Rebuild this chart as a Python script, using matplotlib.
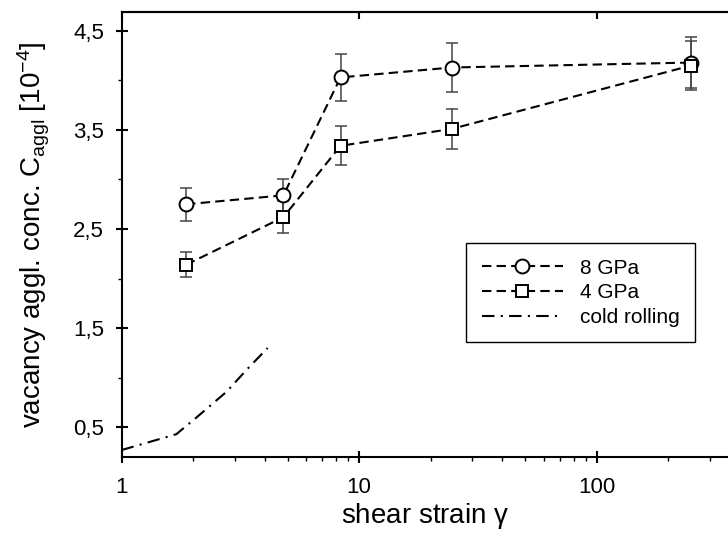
import matplotlib
matplotlib.use("Agg")
import matplotlib.pyplot as plt
from matplotlib.ticker import FixedLocator, FuncFormatter, NullFormatter
from matplotlib.lines import Line2D

# shear strain / agglomerate concentration (x 1e-4)
strain = [1.87, 4.8, 8.35, 24.5, 250]
conc_8gpa = [2.75, 2.84, 4.03, 4.13, 4.18]
err_8gpa = [0.165, 0.17, 0.24, 0.245, 0.26]
conc_4gpa = [2.14, 2.62, 3.34, 3.51, 4.15]
err_4gpa = [0.125, 0.16, 0.195, 0.205, 0.25]

rolling_strain = [1.0, 1.7, 2.07, 2.77, 3.36, 4.12]
rolling_conc = [0.27, 0.43, 0.60, 0.86, 1.08, 1.30]

legend_labels = ["8 GPa", "4 GPa", "cold rolling"]
y_major = [0.5, 1.5, 2.5, 3.5, 4.5]
y_minor = [1.0, 2.0, 3.0, 4.0]
x_major = [1, 10, 100]

plt.rcParams["font.family"] = ["Liberation Sans", "DejaVu Sans"]
plt.rcParams["mathtext.default"] = "regular"

fig = plt.figure(figsize=(7.28, 5.36), dpi=100)
ax = fig.add_axes([0.167, 0.1474, 0.833, 0.8302])

dash = (4.5, 2.5)
dashdot = (6, 3, 1, 3)
ecol = "#444444"

# error bars first, then lines with markers on top
ax.errorbar(strain, conc_8gpa, yerr=err_8gpa, fmt="none", ecolor=ecol,
            elinewidth=1.1, capsize=4, capthick=1.1, zorder=2)
ax.errorbar(strain, conc_4gpa, yerr=err_4gpa, fmt="none", ecolor=ecol,
            elinewidth=1.1, capsize=4, capthick=1.1, zorder=2)

l8, = ax.plot(strain, conc_8gpa, color="black", lw=1.5, dashes=dash,
              marker="o", ms=10, mfc="white", mec="black", mew=1.4, zorder=3)
l4, = ax.plot(strain, conc_4gpa, color="black", lw=1.5, dashes=dash,
              marker="s", ms=8.5, mfc="white", mec="black", mew=1.4, zorder=4)
lr, = ax.plot(rolling_strain, rolling_conc, color="black", lw=1.5,
              dashes=dashdot, zorder=3)

ax.set_xscale("log")
ax.set_xlim(1, 357)
ax.set_ylim(0.2, 4.69)

ax.xaxis.set_major_locator(FixedLocator(x_major))
ax.xaxis.set_major_formatter(FuncFormatter(lambda v, p: "%d" % v))
ax.xaxis.set_minor_formatter(NullFormatter())
ax.yaxis.set_major_locator(FixedLocator(y_major))
ax.yaxis.set_minor_locator(FixedLocator(y_minor))
ax.yaxis.set_major_formatter(FuncFormatter(lambda v, p: ("%.1f" % v).replace(".", ",")))

ax.tick_params(which="major", direction="inout", length=9, width=1.5,
               labelsize=16, pad=10)
ax.tick_params(axis="y", which="major", pad=8)
ax.tick_params(which="minor", direction="out", length=3, width=1.0)

top = ax.secondary_xaxis("top", functions=(lambda v: v, lambda v: v))
top.xaxis.set_major_locator(FixedLocator(x_major))
top.tick_params(which="major", direction="in", length=5, width=1.5,
                labeltop=False)
top.tick_params(which="minor", length=0)
top.spines["top"].set_linewidth(1.5)

for s in ["left", "bottom", "top"]:
    ax.spines[s].set_linewidth(1.5)
ax.spines["right"].set_visible(False)

ax.set_xlabel(r"shear strain $\gamma$", fontsize=20, labelpad=2)
ax.set_ylabel(r"vacancy aggl. conc. C$_{aggl}$ [10$^{-4}$]", fontsize=20)
ax.yaxis.set_label_coords(-0.115, 0.5)

handles = [
    Line2D([], [], color="black", lw=1.5, dashes=dash, marker="o", ms=10,
           mfc="white", mec="black", mew=1.4),
    Line2D([], [], color="black", lw=1.5, dashes=dash, marker="s", ms=8.5,
           mfc="white", mec="black", mew=1.4),
    Line2D([], [], color="black", lw=1.5, dashes=dashdot),
]
leg = ax.legend(handles, legend_labels, loc="upper right",
                bbox_to_anchor=(0.9456, 0.481), borderaxespad=0,
                fontsize=15, numpoints=1,
                handlelength=3.9, handletextpad=0.8, labelspacing=0.27,
                borderpad=0.75, fancybox=False, framealpha=1,
                edgecolor="black")
leg.get_frame().set_linewidth(1.0)

fig.savefig("out.png", dpi=100)
